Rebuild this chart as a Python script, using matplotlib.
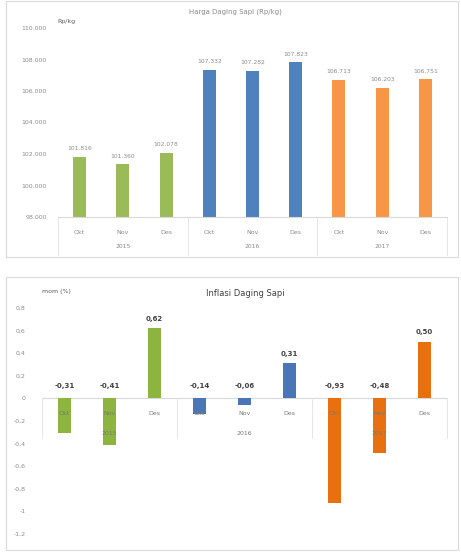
import numpy as np
import matplotlib
matplotlib.use("Agg")
import matplotlib.pyplot as plt
from matplotlib.patches import Rectangle
from matplotlib.lines import Line2D

W, H = 461, 552

months = ["Okt", "Nov", "Des"]
years = ["2015", "2016", "2017"]

# harga daging sapi (Rp/kg)
harga = [101816, 101360, 102078, 107332, 107282, 107823, 106713, 106203, 106751]
harga_ticks = [98000, 100000, 102000, 104000, 106000, 108000, 110000]

# inflasi mom (%)
inflasi = [-0.31, -0.41, 0.62, -0.14, -0.06, 0.31, -0.93, -0.48, 0.50]
inflasi_ticks = [-1.2, -1.0, -0.8, -0.6, -0.4, -0.2, 0.0, 0.2, 0.4, 0.6, 0.8]

warna_atas = ["#9BBB59"] * 3 + ["#4F81BD"] * 3 + ["#F79646"] * 3
warna_bawah = ["#8DB43E"] * 3 + ["#4A76B8"] * 3 + ["#E8700E"] * 3


def px_axes(fig, x0, y0, x1, y1):
    # pixel box (top-left origin) -> figure axes
    return fig.add_axes([x0 / W, 1 - y1 / H, (x1 - x0) / W, (y1 - y0) / H])


def rupiah(v):
    return f"{v:,.0f}".replace(",", ".")


def koma(v, nd=2):
    return f"{v:.{nd}f}".replace(".", ",")


fig = plt.figure(figsize=(W / 100, H / 100), dpi=100)
plt.rcParams['font.family'] = ['DejaVu Sans']

# chart area borders
for (x0, y0, x1, y1) in [(6, 1, 458, 257), (6, 277, 458, 550)]:
    fig.patches.append(Rectangle((x0 / W, 1 - y1 / H), (x1 - x0) / W, (y1 - y0) / H,
                                 transform=fig.transFigure, fill=False,
                                 edgecolor="#d9d9d9", lw=0.8))

x = np.arange(len(harga))
gray = "#8c8c8c"

# ---- top: harga ----
ax1 = px_axes(fig, 58, 28, 447, 217)
ax1.bar(x, harga, width=0.3, color=warna_atas, bottom=0)
ax1.set_ylim(98000, 110000)
ax1.set_xlim(-0.5, 8.5)
ax1.set_yticks(harga_ticks)
ax1.set_yticklabels([rupiah(t) for t in harga_ticks], fontsize=4.5, color=gray)
ax1.set_xticks(x)
ax1.set_xticklabels(months * 3, fontsize=4.5, color=gray)
ax1.tick_params(length=0, pad=9)
ax1.tick_params(axis="y", pad=8)
for s in ["top", "right", "left"]:
    ax1.spines[s].set_visible(False)
ax1.spines["bottom"].set_color("#d9d9d9")
ax1.spines["bottom"].set_linewidth(0.8)
for xi, v in zip(x, harga):
    ax1.annotate(rupiah(v), (xi, v), xytext=(0, 4), textcoords="offset points",
                 ha="center", va="bottom", fontsize=4.3, color=gray)
tr1 = ax1.get_xaxis_transform()
for i, yr in enumerate(years):
    ax1.text(3 * i + 1, -0.155, yr, transform=tr1, ha="center", va="center",
             fontsize=4.3, color=gray)
for b in [-0.5, 2.5, 5.5, 8.5]:
    ax1.add_line(Line2D([b, b], [0, -0.2], transform=tr1, color="#e6e6e6",
                        lw=0.7, clip_on=False))
fig.text(235 / W, 1 - 12 / H, "Harga Daging Sapi (Rp/kg)", ha="center", va="center",
         fontsize=5, color=gray)
fig.text(66 / W, 1 - 21 / H, "Rp/kg", ha="center", va="center",
         fontsize=4.5, color="#595959")

# ---- bottom: inflasi ----
ax2 = px_axes(fig, 42, 308, 447, 534)
ax2.bar(x, inflasi, width=0.3, color=warna_bawah, zorder=2)
ax2.set_ylim(-1.2, 0.8)
ax2.set_xlim(-0.5, 8.5)
ax2.set_yticks(inflasi_ticks)
ax2.set_yticklabels([("0" if t == 0 else ("-1" if t == -1 else koma(t, 1)))
                     for t in inflasi_ticks], fontsize=4.5, color=gray)
ax2.tick_params(axis="y", length=0, pad=12)
ax2.set_xticks([])
for s in ["top", "right", "left", "bottom"]:
    ax2.spines[s].set_visible(False)
ax2.axhline(0, color="#d9d9d9", lw=0.8, zorder=1)
for xi, v in zip(x, inflasi):
    yv = max(v, 0)
    off = 7 if v > 0 else 9
    ax2.annotate(koma(v), (xi, yv), xytext=(0, off), textcoords="offset points",
                 ha="center", va="center", fontsize=5, fontweight="bold",
                 color="#404040")
# category labels sit on the zero line, drawn over the bars
for xi, m in zip(x, months * 3):
    ax2.text(xi, -0.135, m, ha="center", va="center", fontsize=4.5,
             color="#7a7a7a", zorder=5)
for i, yr in enumerate(years):
    ax2.text(3 * i + 1, -0.31, yr, ha="center", va="center", fontsize=4.5,
             color="#7a7a7a", zorder=5)
for b in [-0.5, 2.5, 5.5, 8.5]:
    ax2.plot([b, b], [0, -0.35], color="#e6e6e6", lw=0.7, clip_on=False, zorder=1)
fig.text(245 / W, 1 - 293 / H, "Inflasi Daging Sapi", ha="center", va="center",
         fontsize=6, color="#404040")
fig.text(56 / W, 1 - 292 / H, "mom (%)", ha="center", va="center",
         fontsize=4.5, color="#595959")

fig.savefig("out.png", dpi=100)
